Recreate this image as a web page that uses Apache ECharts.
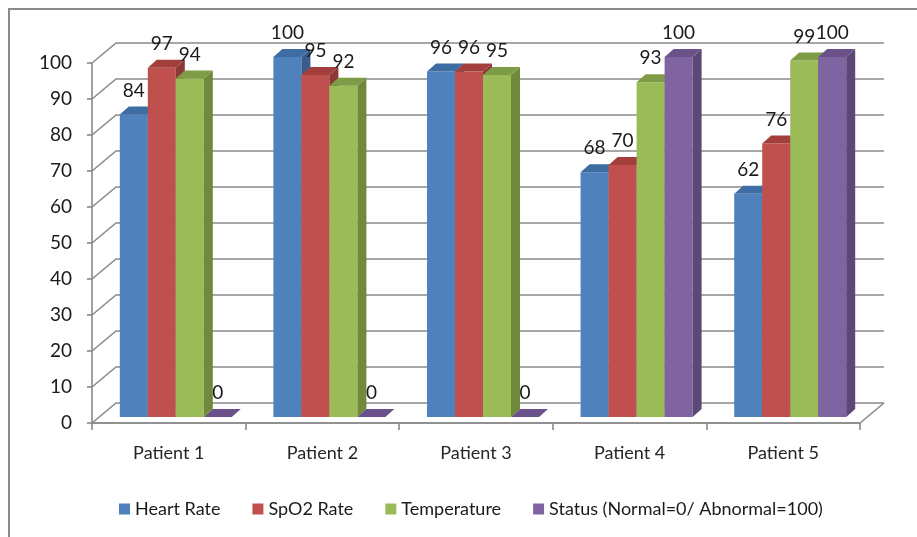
<!DOCTYPE html>
<html>
<head>
<meta charset="utf-8">
<script src="https://cdn.jsdelivr.net/npm/echarts@6/dist/echarts.min.js"></script>
<style>
html,body{margin:0;padding:0;background:#fff;}
#chart{width:917px;height:537px;}
</style>
</head>
<body>
<div id="chart"></div>
<script>
const categories = ['Patient 1', 'Patient 2', 'Patient 3', 'Patient 4', 'Patient 5'];
const heartRate = [84, 100, 96, 68, 62];
const spo2Rate = [97, 95, 96, 70, 76];
const temperature = [94, 92, 95, 93, 99];
const status = [0, 0, 0, 100, 100];
const yTicks = [0, 10, 20, 30, 40, 50, 60, 70, 80, 90, 100];
const seriesNames = ['Heart Rate', 'SpO2 Rate', 'Temperature', 'Status (Normal=0/ Abnormal=100)'];

const FONT = 'Lato';
const faceColors = ['#4F81BD', '#C0504D', '#9BBB59', '#8064A2'];
const sideColors = ['#385D8A', '#8C3836', '#6E8A3A', '#5C4776'];
const topColors = ['#3E6DA4', '#A23F3C', '#7E9C45', '#6A5189'];

// perspective offsets
const BACK_DX = 24, BACK_DY = -20;   // back wall
const BAR_OX = 7, BAR_OY = -6;       // bar front plane vs axis front plane
const BAR_DX = 9, BAR_DY = -8;       // bar depth
const BAR_FRAC = 0.1823;             // bar width as fraction of band

function makeBarSeries(si, values) {
  return {
    name: seriesNames[si],
    type: 'custom',
    coordinateSystem: 'cartesian2d',
    itemStyle: { color: faceColors[si] },
    clip: false,
    silent: true,
    z: 3,
    data: values.map((v, i) => [i, v]),
    renderItem: function (params, api) {
      const cat = api.value(0), val = api.value(1);
      const base = api.coord([cat, 0]);
      const top = api.coord([cat, val]);
      const band = api.size([1, 0])[0];
      const bw = band * BAR_FRAC;
      const x0 = base[0] - bw * 2 + si * bw + BAR_OX;
      const yb = base[1] + BAR_OY;
      const yt = top[1] + BAR_OY;
      return {
        type: 'group',
        children: [
          { type: 'rect', shape: { x: x0, y: yt, width: bw, height: yb - yt }, style: { fill: faceColors[si] } },
          { type: 'polygon', shape: { points: [[x0 + bw, yt], [x0 + bw + BAR_DX, yt + BAR_DY], [x0 + bw + BAR_DX, yb + BAR_DY], [x0 + bw, yb]] }, style: { fill: sideColors[si] } },
          { type: 'polygon', shape: { points: [[x0, yt], [x0 + BAR_DX, yt + BAR_DY], [x0 + bw + BAR_DX, yt + BAR_DY], [x0 + bw, yt]] }, style: { fill: topColors[si] } },
          { type: 'text', z2: 10, style: { x: x0 + bw / 2, y: yt - 24, text: String(val), fill: '#1a1a1a', font: '19px ' + FONT, align: 'center', verticalAlign: 'middle' } }
        ]
      };
    }
  };
}

const wallSeries = {
  name: 'walls',
  type: 'custom',
  coordinateSystem: 'cartesian2d',
  silent: true,
  clip: false,
  z: 1,
  data: yTicks.map(v => [0, v]),
  renderItem: function (params, api) {
    const cs = params.coordSys;
    const v = api.value(1);
    const p = api.coord([0, v]);
    const y = p[1];
    const xl = cs.x, xr = cs.x + cs.width;
    const stroke = { stroke: '#8a8a8a', lineWidth: 1.6, fill: null };
    const children = [
      { type: 'polyline', shape: { points: [[xl, y], [xl + BACK_DX, y + BACK_DY], [xr + BACK_DX, y + BACK_DY]] }, style: stroke }
    ];
    if (v === 0) {
      children.push({ type: 'polyline', shape: { points: [[xl, y], [xr, y], [xr + BACK_DX, y + BACK_DY]] }, style: stroke });
    }
    return { type: 'group', children: children };
  }
};

const chart = echarts.init(document.getElementById('chart'));
chart.setOption({
  animation: false,
  color: faceColors,
  textStyle: { fontFamily: FONT },
  graphic: [{
    type: 'rect', silent: true, z: 0,
    shape: { x: 9, y: 9, width: 940, height: 560 },
    style: { fill: null, stroke: '#8a8a8a', lineWidth: 2 }
  }],
  grid: { left: 92, right: 57, top: 63, bottom: 114 },
  xAxis: {
    type: 'category',
    data: categories,
    axisLine: { show: true, lineStyle: { color: '#8a8a8a', width: 1.6 } },
    axisTick: { show: true, length: 7, lineStyle: { color: '#8a8a8a', width: 1.6 } },
    axisLabel: { color: '#262626', fontSize: 18, fontFamily: FONT, margin: 21 },
    splitLine: { show: false }
  },
  yAxis: {
    type: 'value',
    min: 0, max: 100, interval: 10,
    axisLine: { show: true, lineStyle: { color: '#8a8a8a', width: 1.6 } },
    axisTick: { show: true, length: 5, lineStyle: { color: '#8a8a8a', width: 1.6 } },
    axisLabel: { color: '#1a1a1a', fontSize: 19, fontFamily: FONT, margin: 20 },
    splitLine: { show: false }
  },
  legend: {
    data: seriesNames,
    left: 114, top: 495,
    icon: 'rect',
    itemWidth: 11, itemHeight: 11,
    itemGap: 32,
    textStyle: { color: '#1a1a1a', fontSize: 18, fontFamily: FONT }
  },
  series: [
    wallSeries,
    makeBarSeries(0, heartRate),
    makeBarSeries(1, spo2Rate),
    makeBarSeries(2, temperature),
    makeBarSeries(3, status)
  ]
});
</script>
</body>
</html>
